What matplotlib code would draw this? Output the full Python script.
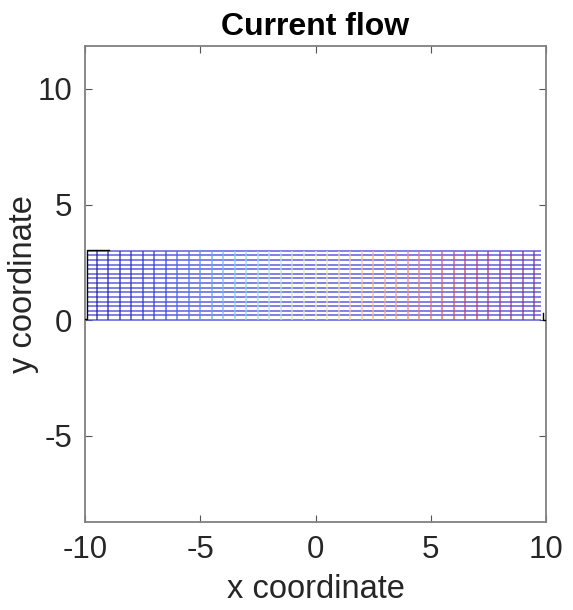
import numpy as np
import matplotlib
matplotlib.use('Agg')
import matplotlib.pyplot as plt
from matplotlib.collections import LineCollection
from matplotlib.colors import LinearSegmentedColormap, Normalize

plt.rcParams['font.family'] = ['Liberation Sans', 'DejaVu Sans']
plt.rcParams['axes.unicode_minus'] = False

# grid of the conductor strip
x_cols = [-9.5, -9.0, -8.5, -8.0, -7.5, -7.0, -6.5, -6.0, -5.5, -5.0,
          -4.5, -4.0, -3.5, -3.0, -2.5, -2.0, -1.5, -1.0, -0.5, 0.0,
          0.5, 1.0, 1.5, 2.0, 2.5, 3.0, 3.5, 4.0, 4.5, 5.0,
          5.5, 6.0, 6.5, 7.0, 7.5, 8.0, 8.5, 9.0, 9.5]
y_rows = [0.0, 0.2, 0.4, 0.6, 0.8, 1.0, 1.2, 1.4, 1.6, 1.8,
          2.0, 2.2, 2.4, 2.6, 2.8, 3.0]
x_left, x_right = -9.9, 9.8
y_bottom, y_top = 0.0, 3.0

# electrode outlines (black)
left_elec_x = [-8.95, -9.9, -9.9, -10.0]
left_elec_y = [3.05, 3.05, 0.05, 0.05]
right_elec_x = [9.85, 9.85, 10.0]
right_elec_y = [0.3, 0.0, 0.0]

xticks = [-10, -5, 0, 5, 10]
yticks = [-5, 0, 5, 10]

col_cmap = LinearSegmentedColormap.from_list(
    'flow', ['#141490', '#3040e8', '#80d8f8', '#eef0b0', '#ffa080', '#c8306a', '#702a9a'])

fig = plt.figure(figsize=(5.73, 6.10), dpi=100)
ax = fig.add_axes([85/573, 88/610, 461/573, 476/610])

# horizontal current lines
hsegs = [[(x_left, y), (x_right, y)] for y in y_rows]
ax.add_collection(LineCollection(hsegs, colors='#5050dc', linewidths=1.2, alpha=0.85, zorder=2))

# vertical lines coloured along the strip
norm = Normalize(-10, 10)
vsegs = [[(x, y_bottom), (x, y_top)] for x in x_cols]
vcols = [col_cmap(norm(x)) for x in x_cols]
ax.add_collection(LineCollection(vsegs, colors=vcols, linewidths=1.1, alpha=0.8, zorder=3))

ax.plot(left_elec_x, left_elec_y, color='k', lw=1.0, zorder=4)
ax.plot(right_elec_x, right_elec_y, color='k', lw=1.0, zorder=4)

ax.set_xlim(-10, 10)
ax.set_ylim(-8.74, 11.86)
ax.set_xticks(xticks)
ax.set_yticks(yticks)
ax.tick_params(direction='in', length=5, width=0.8, color='#555555',
               top=True, right=True, labelsize=22.5, pad=9, labelcolor='#262626')
for s in ax.spines.values():
    s.set_color('#808080')
    s.set_linewidth(1.3)

ax.set_title('Current flow', fontsize=23, fontweight='bold', pad=8)
ax.set_xlabel('x coordinate', fontsize=23.5, color='#262626', labelpad=7)
ax.set_ylabel('y coordinate', fontsize=23.5, color='#262626', labelpad=-1)

fig.savefig('out.png', dpi=100)
